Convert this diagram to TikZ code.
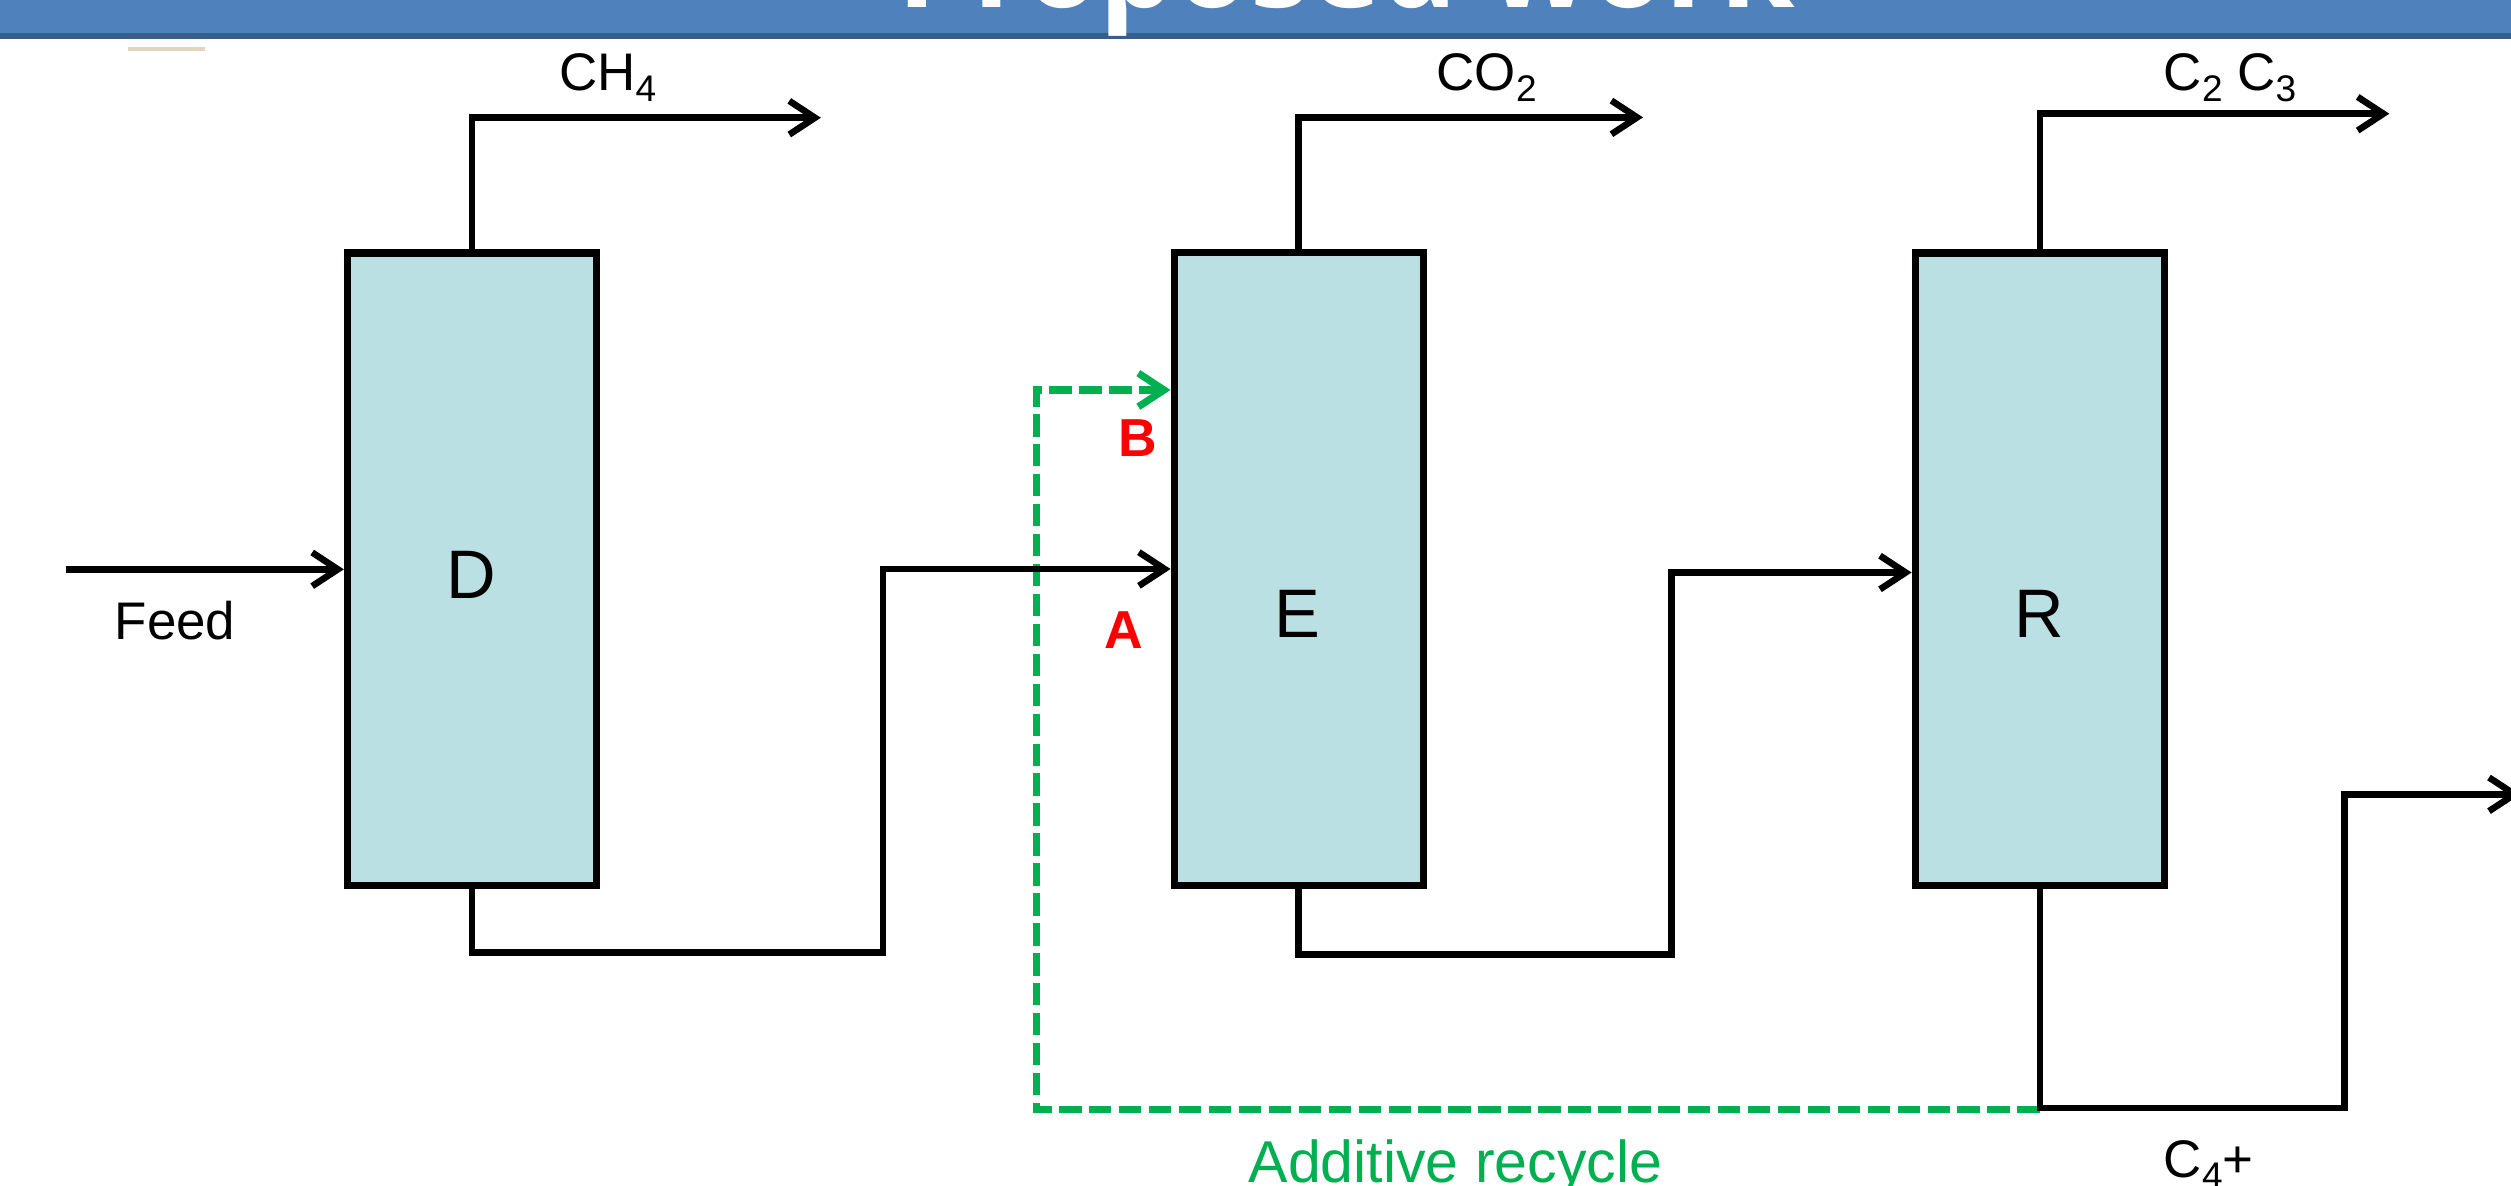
\documentclass[tikz,border=0pt]{standalone}
\usepackage{fontspec}
\setmainfont{Liberation Sans}
\newfontfamily\titlefont{Open Sans}
\usepackage{graphicx}
\usetikzlibrary{arrows.meta}

\definecolor{barblue}{RGB}{79,129,189}
\definecolor{bardark}{RGB}{56,93,138}
\definecolor{colfill}{RGB}{187,224,227}
\definecolor{recgreen}{RGB}{0,176,80}
\definecolor{beigeline}{RGB}{226,212,190}

\newcommand{\chemsub}[1]{\raisebox{-0.21em}{\scalebox{0.7}{#1}}}

\tikzset{
  colbox/.style={draw=black, fill=colfill, line width=0.46mm, minimum width=15.55mm, minimum height=39.5mm, inner sep=0pt},
  pipe/.style={draw=black, line width=0.41mm, line join=miter},
  flow/.style={pipe, -{Straight Barb[length=1.6mm,width=2.1mm]}},
  recycle/.style={draw=recgreen, line width=0.45mm, dash pattern=on 1.4mm off 0.47mm, -{Straight Barb[length=1.6mm,width=2.1mm]}},
  lbl/.style={inner sep=0pt, anchor=base west, font=\fontsize{9.4pt}{11pt}\selectfont},
  collbl/.style={inner sep=0pt, anchor=base, font=\fontsize{12.2pt}{14pt}\selectfont},
  ptlbl/.style={inner sep=0pt, anchor=base, text=red, font=\bfseries\fontsize{9.5pt}{11pt}\selectfont},
}

\begin{document}
\begin{tikzpicture}[x=0.1mm, y=-0.1mm]
\useasboundingbox (0,0) rectangle (1568,740);
\clip (0,0) rectangle (1568,740);

% title bar
\fill[barblue] (0,0) rectangle (1568,20.8);
\fill[bardark] (0,20.8) rectangle (1568,24.4);
\node[anchor=base west, inner sep=0pt, text=white] (title) at (560,4.5)
  {\resizebox{56mm}{!}{\titlefont\bfseries Proposed work}};
\fill[beigeline] (80,29.3) rectangle (128,31.7);

% columns
\node[colbox] (D) at (294.75,355.5) {};
\node[colbox] (E) at (811,355.3) {};
\node[colbox] (R) at (1273.75,355.5) {};

\node[collbl] (Dlbl) at (294.6,374) {D};
\node[collbl] (Elbl) at (810.1,397.8) {E};
\node[collbl] (Rlbl) at (1273.5,397.8) {R};

% coordinates
\coordinate (feedstart) at (41,355.5);
\coordinate (ch4tip) at (512.6,73.5);
\coordinate (d1) at (551.5,594.7);
\coordinate (co2tip) at (1026,73.3);
\coordinate (e1) at (1043.7,596);
\coordinate (e2) at (1043.7,357.5);
\coordinate (c23tip) at (1492,71);
\coordinate (r1) at (1464,692);
\coordinate (c4tip) at (1574,496);
\coordinate (g0) at (1273.75,693);
\coordinate (g1) at (647,693);
\coordinate (g2) at (647,243.5);

% recycle (drawn first, under black lines)
\draw[recycle] (g0) -- (g1) -- (g2) -- (g2 -| E.west);

% streams
\draw[flow] (feedstart) -- (D.west);
\draw[flow] (D.north) |- (ch4tip);
\draw[flow] (D.south) |- (d1) |- (E.west);
\draw[flow] (E.north) |- (co2tip);
\draw[flow] (E.south) |- (e1) -- (e2) -- (e2 -| R.west);
\draw[flow] (R.north) |- (c23tip);
\draw[flow] (R.south) |- (r1) |- (c4tip);

% labels
\node[lbl] (feedlbl) at (71,399.6) {Feed};
\node[lbl] (ch4lbl) at (348.5,56.6) {CH\chemsub{4}};
\node[lbl] (co2lbl) at (896.5,56.6) {CO\chemsub{2}};
\node[lbl] (c23lbl) at (1350.5,56.6) {C\chemsub{2} C\chemsub{3}};
\node[lbl] (c4lbl) at (1350.5,735.4) {C\chemsub{4}+};
\node[lbl, text=recgreen, font=\fontsize{10.5pt}{12pt}\selectfont] (reclbl) at (779,738.5) {Additive recycle};
\node[ptlbl] (Blbl) at (710.5,285) {B};
\node[ptlbl] (Albl) at (701.5,405) {A};
\end{tikzpicture}
\end{document}
